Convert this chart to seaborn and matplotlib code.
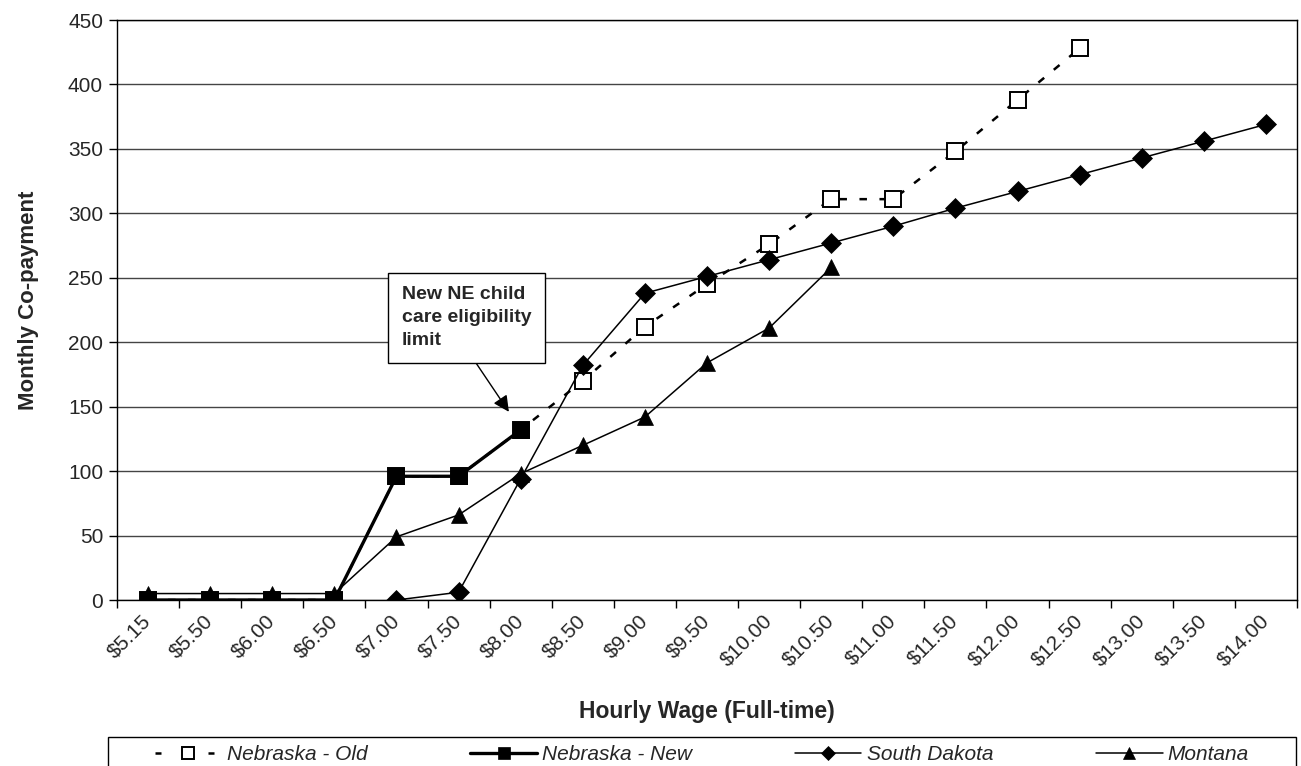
import numpy as np
import matplotlib
matplotlib.use("Agg")
import matplotlib.pyplot as plt
from matplotlib.patches import Rectangle
from matplotlib.lines import Line2D
import seaborn as sns

nan = np.nan

wages = ['$5.15', '$5.50', '$6.00', '$6.50', '$7.00', '$7.50', '$8.00', '$8.50', '$9.00', '$9.50',
         '$10.00', '$10.50', '$11.00', '$11.50', '$12.00', '$12.50', '$13.00', '$13.50', '$14.00']
ne_old = [0, 0, 0, 0, 96, 96, 132, 170, 212, 245, 276, 311, 311, 348, 388, 428, nan, nan, nan]
ne_new = [0, 0, 0, 0, 96, 96, 132, nan, nan, nan, nan, nan, nan, nan, nan, nan, nan, nan, nan]
south_dakota = [nan, nan, nan, nan, 0, 6, 94, 182, 238, 251, 264, 277, 290, 304, 317, 330, 343, 356, 369]
montana = [5, 5, 5, 5, 49, 66, 98, 120, 142, 184, 211, 258, nan, nan, nan, nan, nan, nan, nan]
y_ticks = [0, 50, 100, 150, 200, 250, 300, 350, 400, 450]

sns.set_style("white")
plt.rcParams['font.family'] = ['Liberation Sans', 'DejaVu Sans']

fig = plt.figure(figsize=(13.01, 7.66), dpi=100)
ax = fig.add_axes([117 / 1301, 1 - 600 / 766, 1180 / 1301, 580 / 766])

pos = np.arange(len(wages))

sns.lineplot(x=pos, y=ne_old, ax=ax, color='black', linewidth=1.8, linestyle=(0, (3, 5)),
             marker='s', markersize=11, markerfacecolor='white', markeredgecolor='black',
             markeredgewidth=1.4, errorbar=None, label='Nebraska - Old')
sns.lineplot(x=pos, y=south_dakota, ax=ax, color='black', linewidth=1.1,
             marker='D', markersize=10, markerfacecolor='black', markeredgecolor='black',
             markeredgewidth=0.5, errorbar=None, label='South Dakota')
sns.lineplot(x=pos, y=montana, ax=ax, color='black', linewidth=1.1,
             marker='^', markersize=12, markerfacecolor='black', markeredgecolor='black',
             markeredgewidth=0.5, errorbar=None, label='Montana')
sns.lineplot(x=pos, y=ne_new, ax=ax, color='black', linewidth=2.4,
             marker='s', markersize=12, markerfacecolor='black', markeredgecolor='black',
             markeredgewidth=0.5, errorbar=None, label='Nebraska - New')

ax.set_xlim(-0.5, len(wages) - 0.5)
ax.set_ylim(0, 450)
ax.set_yticks(y_ticks)
ax.yaxis.grid(True, color='#444444', linewidth=1)
ax.set_axisbelow(True)
for s in ax.spines.values():
    s.set_color('black')
    s.set_linewidth(1)

ax.set_xticks(pos)
ax.set_xticklabels(wages, rotation=45, ha='right', va='center', rotation_mode='anchor', fontsize=15)
ax.set_xticks(np.arange(len(wages) + 1) - 0.5, minor=True)
ax.tick_params(axis='x', which='major', length=0, pad=13)
ax.tick_params(axis='x', which='minor', length=6, width=1, direction='out', color='black', bottom=True)
ax.tick_params(axis='y', length=6, width=1, direction='out', color='black', left=True, labelsize=15, pad=4)

ax.set_xlabel('Hourly Wage (Full-time)', fontsize=16.5, fontweight='bold')
ax.set_ylabel('Monthly Co-payment', fontsize=16, fontweight='bold')
ax.xaxis.set_label_coords(0.5, -0.172)
ax.yaxis.set_label_coords(-0.066, 0.517)

ax.annotate('New NE child\ncare eligibility\nlimit', xy=(5.81, 146), xytext=(5.13, 219),
            textcoords='data', ha='center', va='center', multialignment='left',
            fontsize=14, fontweight='bold', linespacing=1.45,
            bbox=dict(boxstyle='square,pad=0.7', fc='white', ec='black', lw=1),
            arrowprops=dict(arrowstyle='-|>', color='black', lw=1, relpos=(0.5, 0),
                            shrinkA=0, shrinkB=0, mutation_scale=24))

handles, labels = ax.get_legend_handles_labels()
ax.get_legend().remove()
hmap = dict(zip(labels, handles))
# legend sample for the old series: one dash each side of the square
hmap['Nebraska - Old'] = Line2D([], [], color='black', linewidth=1.8, linestyle=(0, (2.4, 8.2)),
                                marker='s', markersize=11, markerfacecolor='white',
                                markeredgecolor='black', markeredgewidth=1.4)
order = ['Nebraska - Old', 'Nebraska - New', 'South Dakota', 'Montana']
fig.patches.append(Rectangle((108 / 1301, -0.05), 1188 / 1301, 0.05 + 1 - 737 / 766,
                             transform=fig.transFigure, fill=False, ec='black', lw=1))
leg = fig.legend([hmap[k] for k in order], order, loc='upper left', ncol=4, mode='expand',
                 bbox_to_anchor=(155 / 1301, 1 - 745 / 766, 1094 / 1301, 0), frameon=False,
                 borderpad=0, borderaxespad=0, handlelength=3.2, handletextpad=0.25,
                 markerscale=0.75, prop={'size': 15, 'style': 'italic'})

fig.savefig('out.png', dpi=100)
